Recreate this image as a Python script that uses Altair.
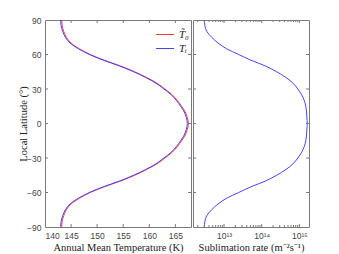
import altair as alt
import pandas as pd

# ---- data ----
lat_north = [90, 85, 80, 75, 70, 65, 60, 55, 50, 45, 40, 35, 30, 25, 20, 15, 10, 5, 0]
Ti_north = [143.0, 143.1, 143.4, 143.9, 144.8, 146.4, 148.5, 151.2, 154.3, 157.0,
            159.3, 161.3, 162.8, 164.2, 165.2, 166.0, 166.7, 167.1, 167.3]
T0_north = [143.2, 143.3, 143.6, 144.1, 145.0, 146.6, 148.7, 151.4, 154.5, 157.2,
            159.5, 161.5, 163.0, 164.4, 165.4, 166.2, 166.9, 167.3, 167.5]
rate_north = [3.0e12, 3.1e12, 3.5e12, 4.7e12, 6.9e12, 1.17e13, 2.45e13, 5.2e13, 1.26e14, 2.5e14,
              4.4e14, 6.8e14, 9.1e14, 1.15e15, 1.35e15, 1.48e15, 1.55e15, 1.58e15, 1.62e15]

lat_ticks = [-90, -60, -30, 0, 30, 60, 90]
T_ticks = [140, 145, 150, 155, 160, 165]
rate_major = [1e13, 1e14, 1e15]
rate_minor = [2e12, 3e12, 4e12, 5e12, 6e12, 7e12, 8e12, 9e12,
              2e13, 3e13, 4e13, 5e13, 6e13, 7e13, 8e13, 9e13,
              2e14, 3e14, 4e14, 5e14, 6e14, 7e14, 8e14, 9e14]
series_names = ["T\u0303\u2080", "T\u1d62"]
series_colors = ["#ff3a3a", "#4545ff"]

# full profiles (southern hemisphere mirrors northern)
lat_all = lat_north + [-v for v in reversed(lat_north[:-1])]
Ti_all = Ti_north + list(reversed(Ti_north[:-1]))
T0_all = T0_north + list(reversed(T0_north[:-1]))
rate_all = rate_north + list(reversed(rate_north[:-1]))

rows = []
for i, (la, a, b) in enumerate(zip(lat_all, T0_all, Ti_all)):
    rows.append({"lat": la, "T": a, "series": series_names[0], "i": i})
    rows.append({"lat": la, "T": b, "series": series_names[1], "i": i})
temp_df = pd.DataFrame(rows)
rate_df = pd.DataFrame({"lat": lat_all, "rate": rate_all, "i": list(range(len(lat_all)))})

W1, W2, H = 146, 116, 207
FRAME = "#7a7a7a"
SANS = "Liberation Sans"
SERIF = "Liberation Serif"
TL = 3  # tick length

lat_scale = alt.Scale(domain=[-90, 90])
T_scale = alt.Scale(domain=[140, 168])
rate_scale = alt.Scale(type="log", domain=[1.5e12, 1.8e15])

common = dict(grid=False, ticks=False, domain=False, labelPadding=4,
              labelFont=SANS, labelFontSize=8.5, labelColor="#444",
              titleFont=SERIF, titleFontSize=10.5, titleFontWeight="normal",
              titleColor="#222", titlePadding=3)

lat_axis = alt.Axis(values=lat_ticks, title="Local Latitude (\u00b0)",
                    minExtent=14, maxExtent=14, **common)
T_axis = alt.Axis(values=T_ticks, title="Annual Mean Temperature (K)", **common)
rate_axis = alt.Axis(values=rate_major, title="Sublimation rate (m\u207b\u00b2s\u207b\u00b9)",
                     labelExpr="datum.value < 5e13 ? '10\u00b9\u00b3' : (datum.value < 5e14 ? '10\u00b9\u2074' : '10\u00b9\u2075')",
                     **common)


def ytick_layers(width, yaxis):
    base = alt.Chart(pd.DataFrame({"lat": lat_ticks[1:-1]})).mark_rule(color=FRAME, strokeWidth=1)
    left = base.encode(y=alt.Y("lat:Q", scale=lat_scale, axis=yaxis),
                       x=alt.value(0), x2=alt.value(TL))
    right = base.encode(y=alt.Y("lat:Q", scale=lat_scale, axis=yaxis),
                        x=alt.value(width - TL), x2=alt.value(width))
    return [left, right]


def xtick_layers(field, values, scale, xaxis, length):
    base = alt.Chart(pd.DataFrame({field: values})).mark_rule(color=FRAME, strokeWidth=1)
    bottom = base.encode(x=alt.X(f"{field}:Q", scale=scale, axis=xaxis),
                         y=alt.value(H - length), y2=alt.value(H))
    top = base.encode(x=alt.X(f"{field}:Q", scale=scale, axis=xaxis),
                      y=alt.value(0), y2=alt.value(length))
    return [bottom, top]


temp_lines = alt.Chart(temp_df).mark_line(strokeWidth=1, interpolate="catmull-rom").encode(
    x=alt.X("T:Q", scale=T_scale, axis=T_axis),
    y=alt.Y("lat:Q", scale=lat_scale, axis=lat_axis),
    color=alt.Color("series:N",
                    scale=alt.Scale(domain=series_names, range=series_colors),
                    sort=series_names,
                    legend=alt.Legend(title=None, orient="none", legendX=110, legendY=8,
                                      symbolType="stroke", symbolSize=330,
                                      symbolStrokeWidth=1, labelFont=SERIF,
                                      labelFontStyle="italic", labelFontSize=11,
                                      labelOffset=4, clipHeight=13,
                                      labelColor="#222", rowPadding=1, padding=0)),
    order="i:Q",
)

left = alt.layer(
    temp_lines,
    *ytick_layers(W1, lat_axis),
    *xtick_layers("T", T_ticks[1:], T_scale, T_axis, TL),
).properties(width=W1, height=H)

# right panel: no y axis at all (shares the latitude range)
rate_line = alt.Chart(rate_df).mark_line(strokeWidth=1, color="#4545ff",
                                          interpolate="catmull-rom").encode(
    x=alt.X("rate:Q", scale=rate_scale, axis=rate_axis),
    y=alt.Y("lat:Q", scale=lat_scale, axis=None),
    order="i:Q",
)

right = alt.layer(
    rate_line,
    *ytick_layers(W2, None),
    *xtick_layers("rate", rate_major, rate_scale, rate_axis, TL),
    *xtick_layers("rate", rate_minor, rate_scale, rate_axis, 2),
).properties(width=W2, height=H)

chart = alt.hconcat(left, right, spacing=0).resolve_scale(
    color="independent"
).properties(
    padding={"left": 9, "top": 7, "right": 5, "bottom": 5},
    background="white",
).configure_view(
    stroke=FRAME, strokeWidth=1
)

chart.save("out.html", embed_options={"renderer": "svg", "actions": False})
